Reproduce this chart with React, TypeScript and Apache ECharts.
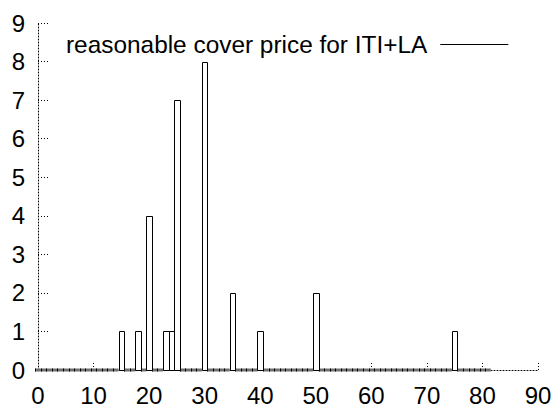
import React, { useEffect, useRef } from "react";
import * as echarts from "echarts";

// Histogram bins with nonzero counts (bin centre -> count)
const barX = [15, 18, 20, 23, 24, 25, 30, 35, 40, 50, 75];
const barCount = [1, 1, 4, 1, 1, 7, 8, 2, 1, 2, 1];
// Range of integer bins drawn (empty bins are drawn as zero-height boxes)
const binFirst = 0;
const binLast = 81;
const xTicks = [0, 10, 20, 30, 40, 50, 60, 70, 80, 90];
const yTicks = [0, 1, 2, 3, 4, 5, 6, 7, 8, 9];
const legendName = "reasonable cover price for ITI+LA";

const FONT = "'Liberation Sans', Arial, Helvetica, sans-serif";

export default function App() {
  const ref = useRef<HTMLDivElement>(null);
  useEffect(() => {
    document.body.style.margin = "0";
    const chart = echarts.init(ref.current!, null, { renderer: "svg" });
    const bins: number[][] = [];
    for (let b = binFirst; b <= binLast; b++) {
      const i = barX.indexOf(b);
      bins.push([b, i >= 0 ? barCount[i] : 0]);
    }
    const zeroBins = bins.filter((d) => d[1] === 0);
    const fullBins = bins.filter((d) => d[1] > 0);

    const renderBox = (params: any, api: any) => {
      const x = api.value(0);
      const v = api.value(1);
      const p0 = api.coord([x - 0.5, 0]);
      const p1 = api.coord([x + 0.5, v]);
      if (v === 0) {
        return {
          type: "group",
          children: [
            {
              type: "line",
              shape: { x1: p0[0], y1: p0[1], x2: p1[0], y2: p0[1] },
              style: { stroke: "#707070", lineWidth: 3 },
            },
            {
              type: "rect",
              shape: { x: Math.round(p0[0]), y: p0[1] - 1.5, width: 1, height: 3 },
              style: { fill: "#000" },
            },
          ],
        };
      }
      const l = Math.round(p0[0]) + 0.5;
      const r = Math.round(p1[0]) + 0.5;
      const t = Math.round(p1[1]) + 0.5;
      const b = Math.round(p0[1]) + 0.5;
      return {
        type: "rect",
        shape: { x: l, y: t, width: r - l, height: b - t },
        style: { fill: "#fff", stroke: "#000", lineWidth: 1 },
      };
    };

    chart.setOption({
      animation: false,
      backgroundColor: "#fff",
      textStyle: { fontFamily: FONT },
      grid: { left: 38, right: 18, top: 23, bottom: 36, containLabel: false },
      legend: {
        data: [legendName],
        left: 66,
        top: 32.5,
        align: "right",
        itemWidth: 68,
        itemHeight: 14,
        padding: 0,
        itemStyle: { opacity: 0 },
        lineStyle: { color: "#000", width: 1 },
        textStyle: { fontSize: 24.4, color: "#000", fontFamily: FONT, padding: [0, 8, 0, 0] },
        selectedMode: false,
      },
      xAxis: {
        type: "value",
        min: 0,
        max: 90,
        interval: 10,
        axisLine: { show: true, lineStyle: { color: "#000", width: 1, type: [1, 2] } },
        axisTick: { show: true, inside: true, length: 9, lineStyle: { color: "#000", type: [1, 2] } },
        axisLabel: {
          fontSize: 24,
          color: "#000",
          margin: 13,
          fontFamily: FONT,
          formatter: (v: number) => (xTicks.includes(v) ? String(v) : ""),
        },
        splitLine: { show: false },
      },
      yAxis: {
        type: "value",
        min: 0,
        max: 9,
        interval: 1,
        axisLine: { show: true, lineStyle: { color: "#000", width: 1, type: [1, 2] } },
        axisTick: { show: true, inside: true, length: 11, lineStyle: { color: "#000", type: [1, 2] } },
        axisLabel: {
          fontSize: 24,
          color: "#000",
          margin: 13,
          fontFamily: FONT,
          formatter: (v: number) => (yTicks.includes(v) ? String(v) : ""),
        },
        splitLine: { show: false },
      },
      series: [
        {
          name: "empty bins",
          type: "custom",
          renderItem: renderBox,
          data: zeroBins,
          encode: { x: 0, y: 1 },
          z: 3,
        },
        {
          name: "counts",
          type: "custom",
          renderItem: renderBox,
          data: fullBins,
          encode: { x: 0, y: 1 },
          z: 4,
        },
        {
          name: legendName,
          type: "line",
          data: [],
          symbol: "none",
          showSymbol: false,
          lineStyle: { color: "#000", width: 1 },
          itemStyle: { color: "#000" },
        },
      ],
    });
    return () => chart.dispose();
  }, []);
  return (
    <div
      ref={ref}
      style={{ position: "absolute", left: 0, top: 0, width: 556, height: 407 }}
    />
  );
}
